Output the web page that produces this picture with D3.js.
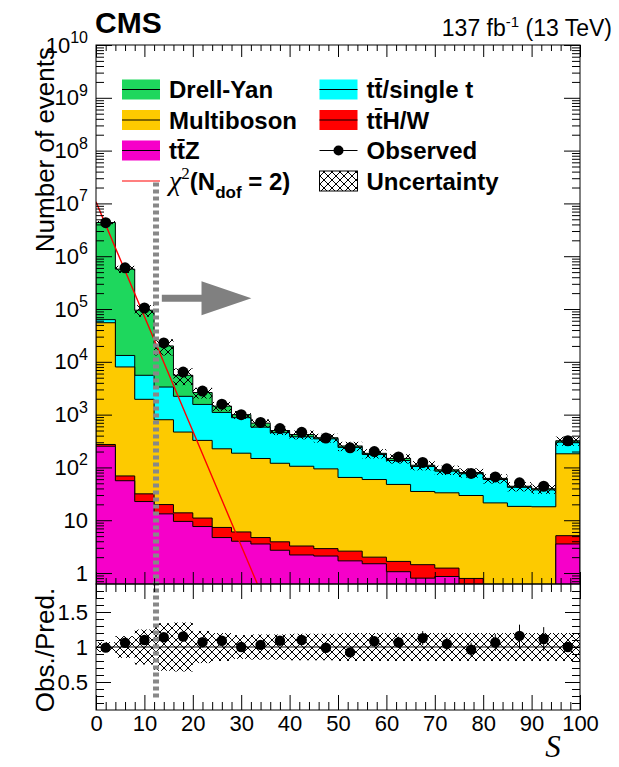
<!DOCTYPE html>
<html lang="en"><head><meta charset="utf-8">
<script src="https://d3js.org/d3.v7.min.js"></script>
<style>
  body { margin: 0; background: #fff; }
  svg { font-family: "Liberation Sans", Arial, Helvetica, sans-serif; }
</style>
</head>
<body>
<div id="chart"></div>
<script>
// bin edges of the significance S
const binEdges = [0,4,8,12,16,20,24,28,32,36,40,45,50,55,60,65,70,75,80,85,90,95,100];

// expected events per bin (stack order bottom -> top)
const ttzEvents  = [252,56,22.6,13.2,9.5,7.6,4.7,4.0,3.55,2.7,2.2,2.1,1.7,1.5,1.06,0.8,0.86,0.5,0.4,0.3,0.3,3.55];
const tthwEvents = [20,13,9,6.6,4.3,3.4,2.6,2.0,1.15,1.2,1.05,0.8,0.9,0.5,0.6,0.64,0.38,0.29,0.15,0.15,0.1,1.55];
const vvEvents   = [54700,7930,1918,780,454,314,218,180,143,116,102,91,62,57,46,33.6,31.8,28.6,20.75,17.85,17.6,176];
const ttEvents   = [8000,5200,3610,2530,1752,1235,875,689,432,335,275,254,175,117,87.5,69,52,46.6,37.7,23.7,19.6,120];
const dyEvents   = [4287000,556800,89400,16670,3340,1060,350,125,110,45,40,17,15,9,13,6,5,4,3,2,1.9,19];

// data
const observed = [4310000,604000,104500,22800,6390,2800,1580,1000,711,545,462,361,235,200,158,124,94,77,66,51,44,320];
const ratioErr = [0,0,0,0.01,0.01,0.02,0.03,0.03,0.04,0.04,0.05,0.05,0.06,0.07,0.08,0.1,0.09,0.1,0.12,0.16,0.17,0.06];
// relative uncertainty of the prediction
const uncRel = [0.07,0.155,0.25,0.34,0.35,0.23,0.2,0.17,0.18,0.18,0.19,0.19,0.2,0.2,0.2,0.2,0.2,0.2,0.2,0.2,0.2,0.2];

// chi2 (Ndof = 2) curve
const chi2S = [0, 10, 20, 30, 35];
const chi2N = [1.07e7, 7.2e4, 490, 3.3, 0.27];

const cutValue = 12.4;

const yTicks = [1,10,1e2,1e3,1e4,1e5,1e6,1e7,1e8,1e9,1e10];
const ratioTicks = [0.5, 1, 1.5];
const xTicks = [0,10,20,30,40,50,60,70,80,90,100];

const width = 619, height = 767;
const left = 96, right = 580;
const mainTop = 45, mainBottom = 584, ratioBottom = 710;

const svg = d3.select("#chart").append("svg")
  .attr("width", width).attr("height", height)
  .attr("viewBox", [0, 0, width, height]);

const x = d3.scaleLinear([0, 100], [left, right]);
const y = d3.scaleLog([0.62, 1e10], [mainBottom, mainTop]);
const yr = d3.scaleLinear([0.1, 1.9], [ratioBottom, mainBottom]);

const defs = svg.append("defs");
defs.append("clipPath").attr("id", "clipMain")
  .append("rect").attr("x", left).attr("y", mainTop).attr("width", right - left).attr("height", mainBottom - mainTop);
defs.append("clipPath").attr("id", "clipRatio")
  .append("rect").attr("x", left).attr("y", mainBottom).attr("width", right - left).attr("height", ratioBottom - mainBottom);
const pat = defs.append("pattern").attr("id", "hatch")
  .attr("patternUnits", "userSpaceOnUse").attr("width", 8).attr("height", 8);
pat.append("path").attr("d", "M-1,-1 L9,9 M9,-1 L-1,9").attr("stroke", "#000").attr("stroke-width", 1);

const nb = observed.length;
const layers = [
  {name: "ttZ", vals: ttzEvents, color: "#f600c9"},
  {name: "ttHW", vals: tthwEvents, color: "#ff0000"},
  {name: "VV", vals: vvEvents, color: "#fdca00"},
  {name: "tt", vals: ttEvents, color: "#00ffff"},
  {name: "DY", vals: dyEvents, color: "#1ed75d"}
];
// cumulative tops
let cum = new Array(nb).fill(0);
layers.forEach(l => {
  cum = cum.map((c, i) => c + l.vals[i]);
  l.top = cum.slice();
});
const total = cum;

function stepPoints(tops) {
  const pts = [];
  tops.forEach((t, i) => { pts.push([binEdges[i], t]); pts.push([binEdges[i + 1], t]); });
  return pts;
}

const gMain = svg.append("g").attr("clip-path", "url(#clipMain)");
const area = d3.area().x(d => x(d[0])).y0(mainBottom + 5).y1(d => y(d[1]));
const outline = d3.line().x(d => x(d[0])).y(d => y(d[1]));

layers.slice().reverse().forEach(l => {
  const pts = stepPoints(l.top);
  gMain.append("path").attr("d", area(pts)).attr("fill", l.color);
  const full = [[0, 1e-3], ...pts, [100, 1e-3]];
  gMain.append("path").attr("d", outline(full)).attr("fill", "none")
    .attr("stroke", "#000").attr("stroke-width", 1);
});

// uncertainty band main
gMain.selectAll("rect.unc").data(total).join("rect")
  .attr("x", (d, i) => x(binEdges[i]))
  .attr("width", (d, i) => x(binEdges[i + 1]) - x(binEdges[i]))
  .attr("y", (d, i) => y(d * (1 + uncRel[i])))
  .attr("height", (d, i) => y(d * (1 - uncRel[i])) - y(d * (1 + uncRel[i])))
  .attr("fill", "url(#hatch)");

// chi2 line
gMain.append("path")
  .attr("d", d3.line().x((d, i) => x(chi2S[i])).y(d => y(d))(chi2N))
  .attr("fill", "none").attr("stroke", "#ff0000").attr("stroke-width", 1.4);

// observed points
gMain.selectAll("circle.obs").data(observed).join("circle")
  .attr("cx", (d, i) => x((binEdges[i] + binEdges[i + 1]) / 2))
  .attr("cy", d => y(d))
  .attr("r", 5.5).attr("fill", "#000");

// ratio panel
const gRatio = svg.append("g").attr("clip-path", "url(#clipRatio)");
gRatio.selectAll("rect.unc").data(uncRel).join("rect")
  .attr("x", (d, i) => x(binEdges[i]))
  .attr("width", (d, i) => x(binEdges[i + 1]) - x(binEdges[i]))
  .attr("y", d => yr(1 + d))
  .attr("height", d => yr(1 - d) - yr(1 + d))
  .attr("fill", "url(#hatch)");
gRatio.append("line").attr("x1", left).attr("x2", right)
  .attr("y1", yr(1)).attr("y2", yr(1)).attr("stroke", "#000").attr("stroke-width", 1);

const ratio = observed.map((o, i) => o / total[i]);
gRatio.selectAll("line.err").data(ratio).join("line")
  .attr("x1", (d, i) => x((binEdges[i] + binEdges[i + 1]) / 2))
  .attr("x2", (d, i) => x((binEdges[i] + binEdges[i + 1]) / 2))
  .attr("y1", (d, i) => yr(d + ratioErr[i]))
  .attr("y2", (d, i) => yr(d - ratioErr[i]))
  .attr("stroke", "#000").attr("stroke-width", 1);
gRatio.selectAll("circle").data(ratio).join("circle")
  .attr("cx", (d, i) => x((binEdges[i] + binEdges[i + 1]) / 2))
  .attr("cy", d => yr(d))
  .attr("r", 5.2).attr("fill", "#000");

// cut line and arrow
svg.append("line")
  .attr("x1", x(cutValue)).attr("x2", x(cutValue))
  .attr("y1", y(2.5e7)).attr("y2", yr(0.25))
  .attr("stroke", "#888").attr("stroke-width", 6).attr("stroke-dasharray", "4,3");
const ay = y(1.6e5);
const a0 = x(13.6), a1 = x(21.8), a2 = x(32.1);
svg.append("path")
  .attr("d", `M${a0},${ay - 3.5}H${a1}V${ay - 17}L${a2},${ay}L${a1},${ay + 17}V${ay + 3.5}H${a0}Z`)
  .attr("fill", "#808080");

// axes
const xMinor = d3.range(0, 101, 2).filter(v => v % 10 !== 0);
const yMinor = [];
for (let e = -1; e < 10; e++) for (let m = 2; m <= 9; m++) { const v = m * Math.pow(10, e); if (v > 0.62 && v < 1e10) yMinor.push(v); }
const rMinor = d3.range(2, 19).map(v => v / 10).filter(v => ![0.5, 1, 1.5].includes(v));

function ticks(axis, pos, vals, size) {
  svg.append("g").attr("transform", pos)
    .call(axis.tickValues(vals).tickSize(size).tickFormat(""))
    .call(g => g.select(".domain").remove())
    .call(g => g.selectAll("line").attr("stroke", "#000"));
}
// main panel
ticks(d3.axisBottom(x), `translate(0,${mainBottom})`, xTicks, -12);
ticks(d3.axisBottom(x), `translate(0,${mainBottom})`, xMinor, -6);
ticks(d3.axisBottom(x), `translate(0,${mainTop})`, xTicks, 12);
ticks(d3.axisBottom(x), `translate(0,${mainTop})`, xMinor, 6);
ticks(d3.axisRight(y), `translate(${left},0)`, yTicks, 16);
ticks(d3.axisRight(y), `translate(${left},0)`, yMinor, 8);
ticks(d3.axisLeft(y), `translate(${right},0)`, yTicks, 16);
ticks(d3.axisLeft(y), `translate(${right},0)`, yMinor, 8);
// ratio panel
ticks(d3.axisBottom(x), `translate(0,${ratioBottom})`, xTicks, -15);
ticks(d3.axisBottom(x), `translate(0,${ratioBottom})`, xMinor, -8);
ticks(d3.axisBottom(x), `translate(0,${mainBottom})`, xTicks, 15);
ticks(d3.axisBottom(x), `translate(0,${mainBottom})`, xMinor, 8);
ticks(d3.axisRight(yr), `translate(${left},0)`, ratioTicks, 15);
ticks(d3.axisRight(yr), `translate(${left},0)`, rMinor, 8);
ticks(d3.axisLeft(yr), `translate(${right},0)`, ratioTicks, 15);
ticks(d3.axisLeft(yr), `translate(${right},0)`, rMinor, 8);

// frames
svg.append("rect").attr("x", left).attr("y", mainTop).attr("width", right - left).attr("height", mainBottom - mainTop)
  .attr("fill", "none").attr("stroke", "#000").attr("stroke-width", 1);
svg.append("rect").attr("x", left).attr("y", mainBottom).attr("width", right - left).attr("height", ratioBottom - mainBottom)
  .attr("fill", "none").attr("stroke", "#000").attr("stroke-width", 1);

// tick labels
const labelSize = 22;
svg.append("g").attr("transform", `translate(${left},0)`)
  .call(d3.axisLeft(y).tickValues(yTicks).tickSize(0).tickPadding(8).tickFormat(""))
  .call(g => g.select(".domain").remove())
  .call(g => g.selectAll("text").each(function(d) {
    const t = d3.select(this).attr("font-size", labelSize).attr("fill", "#000")
      .attr("font-family", "Liberation Sans, Arial, sans-serif");
    const e = Math.round(Math.log10(d));
    if (e === 0) t.text("1");
    else if (e === 1) t.text("10");
    else {
      t.append("tspan").text("10");
      t.append("tspan").attr("font-size", 16).attr("dy", "-0.6em").text(e);
    }
  }));
svg.append("g").attr("transform", `translate(${left},0)`)
  .call(d3.axisLeft(yr).tickValues(ratioTicks).tickSize(0).tickPadding(8).tickFormat(d => d === 1 ? "1" : d3.format(".1f")(d)))
  .call(g => g.select(".domain").remove())
  .call(g => g.selectAll("text").attr("font-size", labelSize).attr("fill", "#000")
    .attr("font-family", "Liberation Sans, Arial, sans-serif"));
svg.append("g").attr("transform", `translate(0,${ratioBottom})`)
  .call(d3.axisBottom(x).tickValues(xTicks).tickSize(0).tickPadding(5))
  .call(g => g.select(".domain").remove())
  .call(g => g.selectAll("text").attr("font-size", labelSize).attr("fill", "#000")
    .attr("font-family", "Liberation Sans, Arial, sans-serif"));

// axis titles
svg.append("text").attr("transform", `translate(54,${mainTop + 2}) rotate(-90)`)
  .attr("text-anchor", "end").attr("font-size", 26).text("Number of events");
svg.append("text").attr("transform", `translate(54,650) rotate(-90)`)
  .attr("text-anchor", "middle").attr("font-size", 26).text("Obs./Pred.");
svg.append("text").attr("x", 553).attr("y", 757).attr("text-anchor", "middle")
  .attr("font-family", "Liberation Serif, serif").attr("font-style", "italic")
  .attr("font-size", 31).text("S");

// header
svg.append("text").attr("x", 95).attr("y", 33).attr("font-size", 30).attr("font-weight", "bold").text("CMS");
const lum = svg.append("text").attr("x", 612).attr("y", 36).attr("text-anchor", "end").attr("font-size", 23);
lum.append("tspan").text("137 fb");
lum.append("tspan").attr("font-size", 15).attr("dy", -9).text("-1");
lum.append("tspan").attr("dy", 9).text(" (13 TeV)");

// legend
const legLeft = [
  {label: "Drell-Yan", color: "#1ed75d"},
  {label: "Multiboson", color: "#fdca00"},
  {label: "tt\u0304Z", color: "#f600c9"}
];
const legRight = [
  {label: "tt\u0304/single t", color: "#00ffff"},
  {label: "tt\u0304H/W", color: "#ff0000"}
];
const rowY = [89.5, 120, 150.5, 181];
const boxW = 38, boxH = 20;
const colX = [122, 319.5];
const leg = svg.append("g").attr("font-size", 24).attr("font-weight", "bold");
function boxEntry(cx, cy, item) {
  leg.append("rect").attr("x", cx).attr("y", cy - boxH / 2).attr("width", boxW).attr("height", boxH)
    .attr("fill", item.color);
  leg.append("line").attr("x1", cx).attr("x2", cx + boxW).attr("y1", cy).attr("y2", cy)
    .attr("stroke", "#000").attr("stroke-width", 1);
  leg.append("text").attr("x", cx + 47).attr("y", cy + 8.5).text(item.label);
}
legLeft.forEach((d, i) => boxEntry(colX[0], rowY[i], d));
legRight.forEach((d, i) => boxEntry(colX[1], rowY[i], d));
// chi2
leg.append("line").attr("x1", colX[0]).attr("x2", colX[0] + boxW).attr("y1", rowY[3]).attr("y2", rowY[3])
  .attr("stroke", "#ff0000").attr("stroke-width", 1.2);
const ct = leg.append("text").attr("x", colX[0] + 47).attr("y", rowY[3] + 8.5);
ct.append("tspan").attr("font-family", "Liberation Serif, serif").attr("font-style", "italic")
  .attr("font-weight", "normal").attr("font-size", 28).text("\u03c7");
ct.append("tspan").attr("font-family", "Liberation Serif, serif").attr("font-weight", "normal")
  .attr("font-size", 17).attr("dy", -11).text("2");
ct.append("tspan").attr("dy", 11).text("(N");
ct.append("tspan").attr("font-size", 17).attr("dy", 8).text("dof");
ct.append("tspan").attr("dy", -8).text(" = 2)");
// observed
leg.append("line").attr("x1", colX[1]).attr("x2", colX[1] + boxW).attr("y1", rowY[2]).attr("y2", rowY[2])
  .attr("stroke", "#000").attr("stroke-width", 1.2);
leg.append("circle").attr("cx", colX[1] + boxW / 2).attr("cy", rowY[2]).attr("r", 5).attr("fill", "#000");
leg.append("text").attr("x", colX[1] + 47).attr("y", rowY[2] + 8.5).text("Observed");
// uncertainty
leg.append("rect").attr("x", colX[1]).attr("y", rowY[3] - boxH / 2).attr("width", boxW).attr("height", boxH)
  .attr("fill", "url(#hatch)").attr("stroke", "#000").attr("stroke-width", 1);
leg.append("text").attr("x", colX[1] + 47).attr("y", rowY[3] + 8.5).text("Uncertainty");
</script>
</body>
</html>
